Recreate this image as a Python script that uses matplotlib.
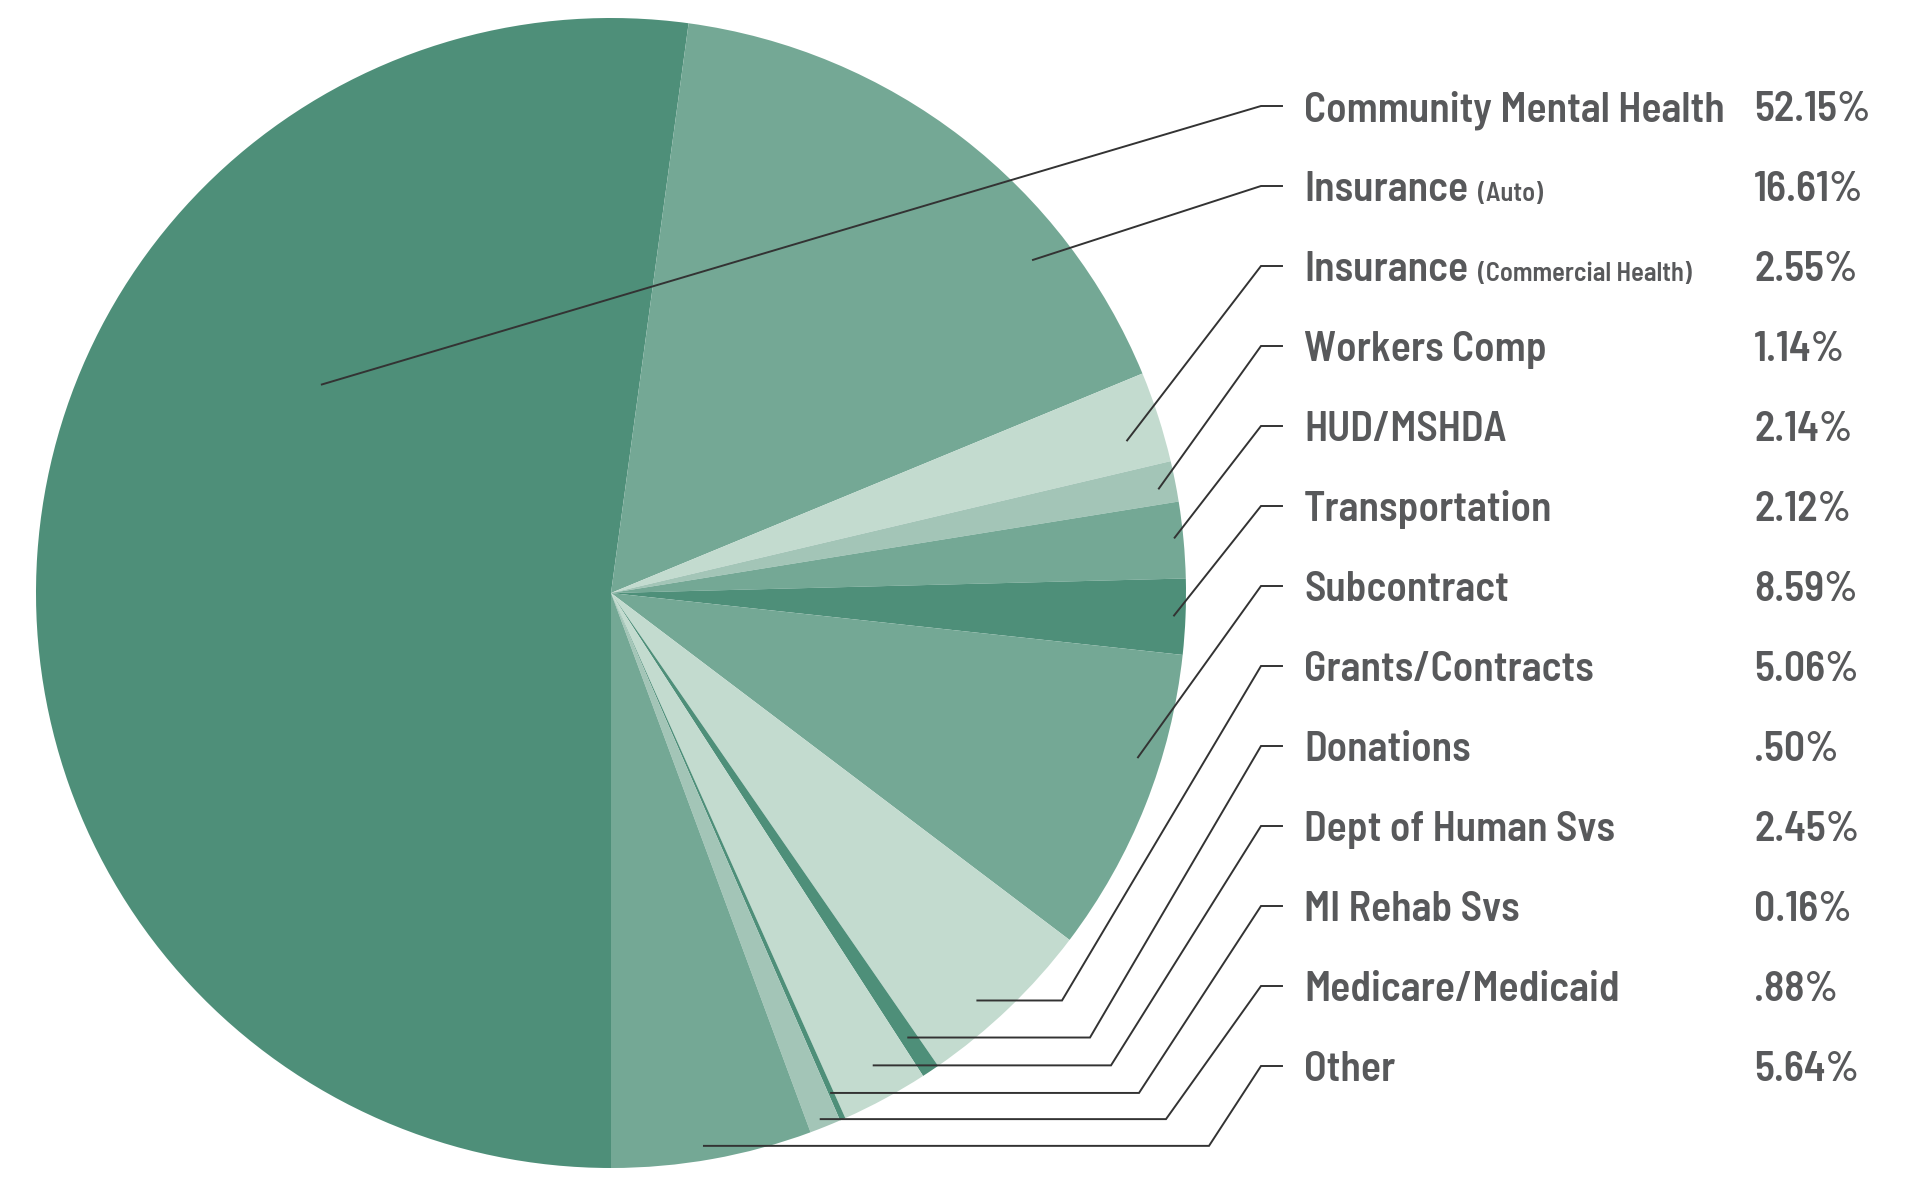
import numpy as np
import matplotlib
matplotlib.use("Agg")
import matplotlib.pyplot as plt

# data
labels = ["Community Mental Health", "Insurance", "Insurance", "Workers Comp",
          "HUD/MSHDA", "Transportation", "Subcontract", "Grants/Contracts",
          "Donations", "Dept of Human Svs", "MI Rehab Svs", "Medicare/Medicaid",
          "Other"]
sublabels = ["", "(Auto)", "(Commercial Health)", "", "", "", "", "", "", "", "", "", ""]
values = [52.15, 16.61, 2.55, 1.14, 2.14, 2.12, 8.59, 5.06, 0.50, 2.45, 0.16, 0.88, 5.64]
pct_text = ["52.15%", "16.61%", "2.55%", "1.14%", "2.14%", "2.12%", "8.59%",
            "5.06%", ".50%", "2.45%", "0.16%", ".88%", "5.64%"]

dark = "#4e8f79"
mid = "#74a895"
light = "#a3c5b7"
pale = "#c3dbcf"
colors = [dark, mid, pale, light, mid, dark, mid, pale, dark, pale, dark, light, mid]

plt.rcParams["font.family"] = ["Barlow Semi Condensed", "DejaVu Sans"]

W, H = 1920, 1180
fig = plt.figure(figsize=(W / 100, H / 100), dpi=100)
ax = fig.add_axes([0, 0, 1, 1])

cx, cy, R = 611, 587, 575
wedges, _ = ax.pie(values, colors=colors, startangle=-90, counterclock=False,
                   center=(cx, cy), radius=R, wedgeprops=dict(linewidth=0))
ax.set_xlim(0, W)
ax.set_ylim(0, H)
ax.set_aspect("equal")
ax.axis("off")

# where along each wedge (clockwise fraction, radius fraction) the leader starts
anchor_frac = [0.67, 0.735, 0.65, 0.6, 0.46, 0.49, 0.36, 0.6, 0.5, 0.43, 0.5, 0.55, 0.53]
anchor_r = [0.62, 0.935, 0.936, 0.97, 0.985, 0.98, 0.96, 0.953, 0.93, 0.94, 0.95, 0.985, 0.975]
# elbow x for the lower labels (leader runs horizontal first)
elbow_x = {7: 1062, 8: 1090, 9: 1111, 10: 1139, 11: 1166, 12: 1209}

text_x = 1304
pct_x = 1754
row0 = H - 106
row_step = 80
join_x = 1261
tick_end = 1282
cap_half = 15
txt_color = "#58595b"
line_color = "#333333"

renderer = fig.canvas.get_renderer()
inv = ax.transData.inverted()

for i, w in enumerate(wedges):
    t1, t2 = w.theta1, w.theta2
    ang = np.deg2rad(t2 - anchor_frac[i] * (t2 - t1))
    ax_ = cx + anchor_r[i] * R * np.cos(ang)
    ay_ = cy + anchor_r[i] * R * np.sin(ang)
    ty = row0 - i * row_step

    if i in elbow_x:
        xs = [ax_, elbow_x[i], join_x, tick_end]
        ys = [ay_, ay_, ty, ty]
    else:
        xs = [ax_, join_x, tick_end]
        ys = [ay_, ty, ty]
    ax.plot(xs, ys, color=line_color, lw=1.4, solid_joinstyle="miter")

    base = ty - cap_half
    t = ax.text(text_x, base, labels[i], fontsize=30, fontweight=600,
                color=txt_color, va="baseline", ha="left")
    if sublabels[i]:
        bb = t.get_window_extent(renderer)
        x_end = inv.transform((bb.x1, bb.y0))[0]
        ax.text(x_end + 10, base, sublabels[i], fontsize=19, fontweight=600,
                color=txt_color, va="baseline", ha="left")
    ax.text(pct_x, base, pct_text[i], fontsize=30, fontweight=600,
            color=txt_color, va="baseline", ha="left")

fig.savefig("out.png", dpi=100, facecolor="white")
